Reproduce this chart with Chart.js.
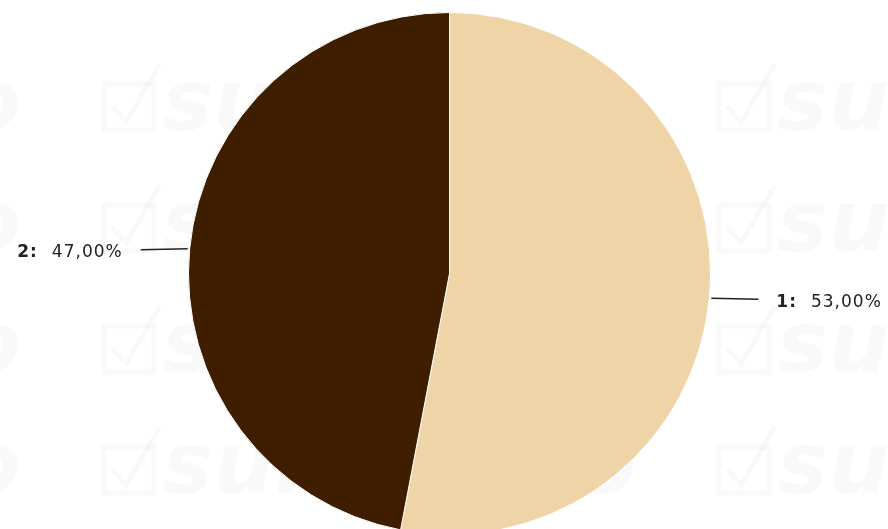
<!DOCTYPE html>
<html>
<head>
<meta charset="utf-8">
<script src="https://cdn.jsdelivr.net/npm/chart.js@4/dist/chart.umd.min.js"></script>
<style>
  html, body { margin: 0; padding: 0; background: #fff; overflow: hidden; }
  #wrap { width: 888px; height: 535px; position: relative; }
</style>
</head>
<body>
<div id="wrap"><canvas id="grafico"></canvas></div>
<script>
// Dados do gráfico
const categorias = ['1', '2'];
const valores = [53.00, 47.00];
const cores = ['#EED4A6', '#3F1E00'];

// Marca d'água bem suave ao fundo
const marcaDagua = {
    id: 'marca_dagua',
    beforeDraw: (chart) => {
        const ctx = chart.ctx;
        ctx.save();
        ctx.fillStyle = '#fff';
        ctx.fillRect(0, 0, chart.width, chart.height);
        const tom = 'rgba(0,0,0,0.022)';
        ctx.fillStyle = tom;
        ctx.strokeStyle = tom;
        ctx.lineWidth = 5;
        ctx.textBaseline = 'alphabetic';
        ctx.font = 'italic bold 86px "DejaVu Sans"';
        for (let y = 108; y < chart.height + 80; y += 121) {
            for (let x = -515; x < chart.width; x += 615) {
                ctx.fillText('surveymo', x + 62, y + 22);
                ctx.strokeRect(x + 4, y - 24, 50, 46);
                ctx.beginPath();
                ctx.moveTo(x + 12, y - 2);
                ctx.lineTo(x + 26, y + 14);
                ctx.lineTo(x + 60, y - 44);
                ctx.stroke();
            }
        }
        ctx.restore();
    }
};

// Rótulos com linha de ligação
const rotulos = {
    id: 'rotulos',
    afterDatasetsDraw: (chart) => {
        const ctx = chart.ctx;
        const meta = chart.getDatasetMeta(0);
        ctx.save();
        meta.data.forEach((arc, i) => {
            const meio = (arc.startAngle + arc.endAngle) / 2;
            const cos = Math.cos(meio), sin = Math.sin(meio);
            const x0 = arc.x + cos * (arc.outerRadius + 2);
            const y0 = arc.y + sin * (arc.outerRadius + 2);
            const lado = cos >= 0 ? 1 : -1;
            const x1 = x0 + lado * 47;
            ctx.strokeStyle = '#222';
            ctx.lineWidth = 1.5;
            ctx.beginPath();
            ctx.moveTo(x0, y0);
            ctx.lineTo(x1, y0 + 1);
            ctx.stroke();

            const negrito = categorias[i] + ':';
            const normal = valores[i].toFixed(2).replace('.', ',') + '%';
            ctx.textBaseline = 'middle';
            ctx.letterSpacing = '1px';
            ctx.font = 'bold 17px "DejaVu Sans"';
            const w1 = ctx.measureText(negrito).width;
            ctx.font = '17px "DejaVu Sans"';
            const w2 = ctx.measureText(normal).width;
            const gap = 14;
            const xt = lado > 0 ? x1 + 18 : x1 - 18 - w1 - gap - w2;
            const yt = y0 + 4;
            ctx.fillStyle = '#222';
            ctx.font = 'bold 17px "DejaVu Sans"';
            ctx.fillText(negrito, xt, yt);
            ctx.font = '17px "DejaVu Sans"';
            ctx.fillText(normal, xt + w1 + gap, yt);
        });
        ctx.restore();
    }
};

const ctx = document.getElementById('grafico').getContext('2d');
const grafico = new Chart(ctx, {
    type: 'pie',
    data: {
        labels: categorias,
        datasets: [{
            data: valores,
            backgroundColor: cores,
            borderColor: '#fff',
            borderWidth: 1
        }]
    },
    options: {
        responsive: true,
        maintainAspectRatio: false,
        animation: false,
        layout: { padding: { top: 12, left: 11, right: 0, bottom: 0 } },
        plugins: {
            legend: { display: false },
            tooltip: { enabled: false }
        }
    },
    plugins: [marcaDagua, rotulos]
});
</script>
</body>
</html>
